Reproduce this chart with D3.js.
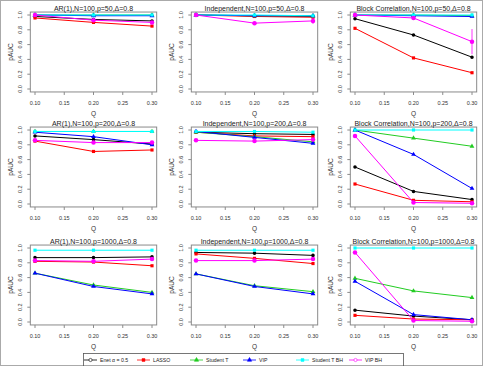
<!DOCTYPE html>
<meta charset="utf-8">
<style>
body { margin: 0; background: #fff; }
svg text { font-family: "Liberation Sans", Arial, sans-serif; }
</style>
<svg width="483" height="366"></svg>
<script src="https://d3js.org/d3.v7.min.js"></script>
<script>

// Q levels on the x axis
var qValues = [0.10, 0.20, 0.30];
var xTicks = [0.10, 0.15, 0.20, 0.25, 0.30];
var yTicks = [0.0, 0.2, 0.4, 0.6, 0.8, 1.0];

var methods = ["Enet \u03b1 = 0.5", "LASSO", "Student T", "VIP", "Student T BH", "VIP BH"];

var panelTitles = [
  "AR(1),N=100,p=50,\u0394=0.8", "Independent,N=100,p=50,\u0394=0.8", "Block Correlation,N=100,p=50,\u0394=0.8",
  "AR(1),N=100,p=200,\u0394=0.8", "Independent,N=100,p=200,\u0394=0.8", "Block Correlation,N=100,p=200,\u0394=0.8",
  "AR(1),N=100,p=1000,\u0394=0.8", "Independent,N=100,p=1000,\u0394=0.8", "Block Correlation,N=100,p=1000,\u0394=0.8"
];

// pAUC per panel, one row per method (same order as methods)
var enet = [
  [0.98, 0.94, 0.92], [1.00, 0.99, 0.98], [0.95, 0.73, 0.43],
  [0.92, 0.87, 0.81], [0.97, 0.95, 0.94], [0.50, 0.17, 0.06],
  [0.87, 0.87, 0.88], [0.94, 0.93, 0.90], [0.16, 0.08, 0.03]
];
var lasso = [
  [0.96, 0.90, 0.85], [1.00, 0.98, 0.97], [0.82, 0.42, 0.22],
  [0.85, 0.71, 0.73], [0.97, 0.92, 0.91], [0.27, 0.05, 0.03],
  [0.82, 0.81, 0.76], [0.92, 0.86, 0.79], [0.09, 0.04, 0.03]
];
var studentT = [
  [1.00, 1.00, 1.00], [1.00, 0.99, 0.99], [1.00, 1.00, 0.99],
  [0.98, 0.98, 0.98], [0.97, 0.91, 0.84], [1.00, 0.89, 0.78],
  [0.66, 0.50, 0.40], [0.65, 0.49, 0.41], [0.59, 0.42, 0.33]
];
var vip = [
  [1.00, 0.99, 0.99], [1.00, 0.99, 0.99], [1.00, 0.99, 0.98],
  [0.97, 0.91, 0.80], [0.98, 0.90, 0.82], [1.00, 0.67, 0.21],
  [0.66, 0.48, 0.38], [0.65, 0.48, 0.38], [0.55, 0.10, 0.03]
];
var studentTBH = [
  [1.00, 1.00, 1.00], [1.00, 1.00, 0.99], [1.00, 1.00, 1.00],
  [0.98, 0.98, 0.98], [0.98, 0.98, 0.97], [1.00, 1.00, 1.00],
  [0.97, 0.97, 0.97], [0.97, 0.97, 0.97], [1.00, 1.00, 1.00]
];
var vipBH = [
  [1.00, 0.93, 0.90], [1.00, 0.89, 0.92], [1.00, 0.96, 0.64],
  [0.86, 0.83, 0.83], [0.86, 0.85, 0.87], [0.92, 0.02, 0.01],
  [0.83, 0.82, 0.85], [0.83, 0.83, 0.85], [0.94, 0.02, 0.01]
];
// error bar half-widths for VIP BH (only visible ones)
var vipBHErr = [
  [0, 0, 0.01], [0, 0.01, 0.04], [0, 0.02, 0.17],
  [0, 0, 0], [0, 0, 0], [0.02, 0, 0],
  [0, 0, 0], [0, 0, 0], [0.02, 0, 0]
];

var seriesData = [enet, lasso, studentT, vip, studentTBH, vipBH];
var colors = ["#000000", "#ff0000", "#22cc22", "#0000ff", "#00ffff", "#ff00ff"];
var symbols = [d3.symbolCircle, d3.symbolSquare, d3.symbolTriangle, d3.symbolTriangle, d3.symbolSquare, d3.symbolCircle];

var svg = d3.select("svg");

// outer frame
svg.append("rect")
    .attr("x", 0.5).attr("y", 0.5)
    .attr("width", 482).attr("height", 365)
    .attr("fill", "none").attr("stroke", "#aaa");

var colX = [35, 196, 355];
var rowY = [15, 130, 248];
var xSpan = 117, ySpan = 74;

panelTitles.forEach(function(title, i) {
  var c = i % 3, r = Math.floor(i / 3);
  var x = d3.scaleLinear().domain([0.1, 0.3]).range([colX[c], colX[c] + xSpan]);
  var y = d3.scaleLinear().domain([0, 1]).range([rowY[r] + ySpan, rowY[r]]);
  var g = svg.append("g");

  // plot box (R-style 4% padding)
  g.append("rect")
      .attr("x", x(0.092)).attr("y", y(1.04))
      .attr("width", x(0.308) - x(0.092))
      .attr("height", y(-0.04) - y(1.04))
      .attr("fill", "none").attr("stroke", "#8a8a8a").attr("stroke-width", 1);

  var yb = y(-0.04), xl = x(0.092);

  // x axis ticks
  g.selectAll(".xt").data(xTicks).enter().append("line")
      .attr("x1", function(d) { return x(d); }).attr("x2", function(d) { return x(d); })
      .attr("y1", yb).attr("y2", yb + 3)
      .attr("stroke", "#8a8a8a");
  g.selectAll(".xl").data(xTicks).enter().append("text")
      .attr("x", function(d) { return x(d); })
      .attr("y", yb + 13)
      .attr("text-anchor", "middle")
      .attr("font-size", 5.5).attr("fill", "#333")
      .text(function(d) { return d3.format(".2f")(d); });
  g.append("text")
      .attr("x", (x(0.1) + x(0.3)) / 2).attr("y", yb + 24)
      .attr("text-anchor", "middle").attr("font-size", 6.5).attr("fill", "#333")
      .text("Q");

  // y axis ticks
  g.selectAll(".yt").data(yTicks).enter().append("line")
      .attr("x1", xl).attr("x2", xl - 3)
      .attr("y1", function(d) { return y(d); }).attr("y2", function(d) { return y(d); })
      .attr("stroke", "#8a8a8a");
  g.selectAll(".yl").data(yTicks).enter().append("text")
      .attr("transform", function(d) { return "translate(" + (xl - 8) + "," + y(d) + ") rotate(-90)"; })
      .attr("text-anchor", "middle")
      .attr("font-size", 5.5).attr("fill", "#333")
      .text(function(d) { return d3.format(".1f")(d); });
  g.append("text")
      .attr("transform", "translate(" + (xl - 17) + "," + y(0.5) + ") rotate(-90)")
      .attr("text-anchor", "middle").attr("font-size", 6.5).attr("fill", "#333")
      .text("pAUC");

  // title
  g.append("text")
      .attr("x", (x(0.1) + x(0.3)) / 2).attr("y", y(1.04) - 1.5)
      .attr("text-anchor", "middle").attr("font-size", 7).attr("fill", "#222")
      .text(title);

  var line = d3.line()
      .x(function(d, k) { return x(qValues[k]); })
      .y(function(d) { return y(d); });

  seriesData.forEach(function(s, m) {
    var vals = s[i];
    g.append("path")
        .attr("d", line(vals))
        .attr("fill", "none").attr("stroke", colors[m]).attr("stroke-width", 1);
    if (m === 5) {
      vipBHErr[i].forEach(function(e, k) {
        if (e > 0) {
          g.append("line")
              .attr("x1", x(qValues[k])).attr("x2", x(qValues[k]))
              .attr("y1", y(vals[k] - e)).attr("y2", y(Math.min(1, vals[k] + e)))
              .attr("stroke", colors[m]).attr("stroke-width", 0.8);
        }
      });
    }
    g.selectAll(".pt" + m).data(vals).enter().append("path")
        .attr("d", d3.symbol().type(symbols[m]).size(m === 5 ? 16 : 10))
        .attr("transform", function(d, k) { return "translate(" + x(qValues[k]) + "," + y(d) + ")"; })
        .attr("fill", colors[m]);
  });
});

// legend
var leg = svg.append("g");
leg.append("rect")
    .attr("x", 83.5).attr("y", 353.5)
    .attr("width", 320).attr("height", 20)
    .attr("fill", "none").attr("stroke", "#555").attr("stroke-width", 0.8);

var legX = d3.scaleLinear().domain([0, 5]).range([84, 349]);
methods.forEach(function(name, m) {
  var lx = legX(m);
  leg.append("line")
      .attr("x1", lx).attr("x2", lx + 13)
      .attr("y1", 360).attr("y2", 360)
      .attr("stroke", colors[m]).attr("stroke-width", 0.8);
  leg.append("path")
      .attr("d", d3.symbol().type(symbols[m]).size(8))
      .attr("transform", "translate(" + (lx + 6.5) + ",360)")
      .attr("fill", m === 0 || m === 5 ? "#fff" : colors[m])
      .attr("stroke", colors[m]).attr("stroke-width", 0.6);
  leg.append("text")
      .attr("x", lx + 16).attr("y", 362)
      .attr("font-size", 5.2).attr("fill", "#222")
      .text(name);
});

</script>
